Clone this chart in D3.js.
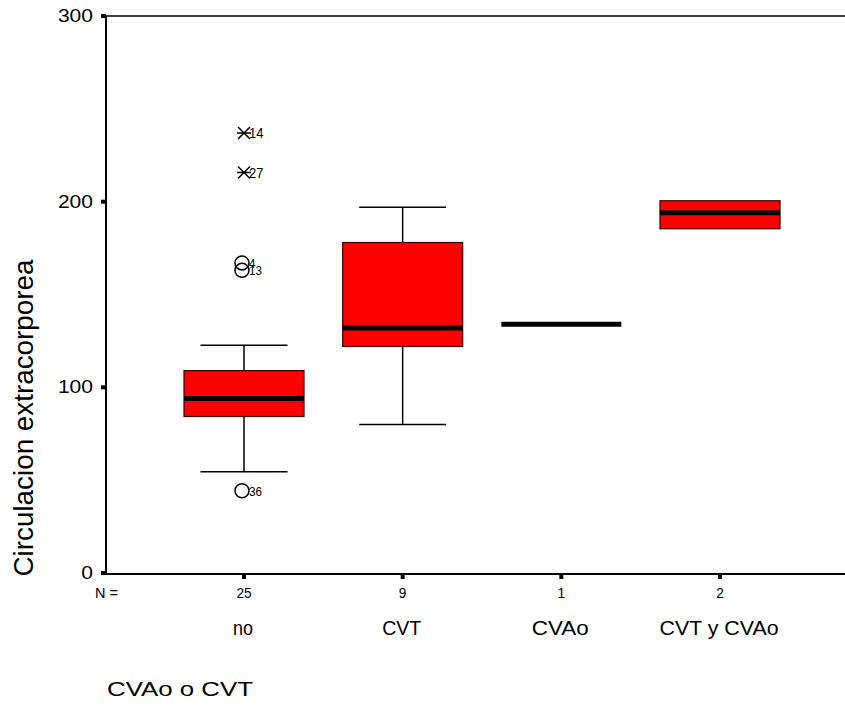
<!DOCTYPE html>
<html><head><meta charset="utf-8">
<script src="https://cdn.jsdelivr.net/npm/d3@7"></script>
<style>body{margin:0;background:#fff}svg{display:block}text{font-family:"Liberation Sans",Arial,sans-serif;fill:#000}</style>
</head><body><svg id="c" width="845" height="706"></svg>
<script>
const categories = ["no","CVT","CVAo","CVT y CVAo"];
const counts = [25, 9, 1, 2];
const q1 = [84.3, 122, 134, 185.4];
const median = [94, 132, 134, 194];
const q3 = [109, 178, 134, 200.5];
const whiskerLow = [54.6, 80, 134, 185.4];
const whiskerHigh = [122.7, 197, 134, 200.5];
// outliers: category index, value, label, type
const outlierCat = [0,0,0,0,0];
const outlierVal = [237, 215.7, 167, 163, 44.3];
const outlierLabel = ["14","27","4","13","36"];
const outlierType = ["extreme","extreme","circle","circle","circle"];
const yTicks = [0,100,200,300];

const svg = d3.select("#c");
const pLeft = 106, pTop = 16, pBottom = 573;
const y = d3.scaleLinear().domain([0,300]).range([pBottom, pTop]);
const x = d3.scalePoint().domain(categories).range([244, 720]);
const cx = c => x(c);
const bw = 120, capW = 87;
const catLabelW = [20, 39, 57, 119];

// frame
svg.append("line").attr("x1",pLeft).attr("x2",845).attr("y1",pTop).attr("y2",pTop).attr("stroke","#000").attr("stroke-width",1.5);
svg.append("line").attr("x1",pLeft).attr("x2",pLeft).attr("y1",pTop).attr("y2",pBottom+1).attr("stroke","#000").attr("stroke-width",2);
svg.append("line").attr("x1",pLeft).attr("x2",845).attr("y1",pBottom+1).attr("y2",pBottom+1).attr("stroke","#000").attr("stroke-width",2);

// y ticks
yTicks.forEach(t=>{
  svg.append("rect").attr("x",pLeft-5).attr("y",y(t)-2).attr("width",5).attr("height",4).attr("fill","#000");
  svg.append("text").attr("x",93).attr("y",y(t)+6).attr("text-anchor","end").attr("font-size",18)
    .attr("textLength", String(t).length*11.7).attr("lengthAdjust","spacingAndGlyphs").text(t);
});
// x ticks
categories.forEach((c,i)=>{
  svg.append("rect").attr("x",cx(c)-2).attr("y",pBottom+1).attr("width",4).attr("height",5).attr("fill","#000");
  svg.append("text").attr("x",cx(c)).attr("y",598).attr("text-anchor","middle").attr("font-size",14)
    .attr("textLength", String(counts[i]).length*7.6).attr("lengthAdjust","spacingAndGlyphs").text(counts[i]);
  svg.append("text").attr("x",cx(c)-1).attr("y",635).attr("text-anchor","middle").attr("font-size",20)
    .attr("textLength",catLabelW[i]).attr("lengthAdjust","spacingAndGlyphs").text(c);
});
svg.append("text").attr("x",95).attr("y",598).attr("font-size",14).attr("textLength",23).attr("lengthAdjust","spacingAndGlyphs").text("N =");

// titles
svg.append("text").attr("transform",`translate(33,418) rotate(-90)`).attr("text-anchor","middle").attr("font-size",27)
  .attr("textLength",317).attr("lengthAdjust","spacingAndGlyphs").text("Circulacion extracorporea");
svg.append("text").attr("x",107).attr("y",696).attr("font-size",21).attr("textLength",146).attr("lengthAdjust","spacingAndGlyphs").text("CVAo o CVT");

// boxes
categories.forEach((c,i)=>{
  const m = cx(c);
  const g = svg.append("g");
  if (whiskerHigh[i] > q3[i]) {
    g.append("line").attr("x1",m).attr("x2",m).attr("y1",y(q3[i])).attr("y2",y(whiskerHigh[i])).attr("stroke","#000").attr("stroke-width",1.5);
    g.append("line").attr("x1",m-capW/2).attr("x2",m+capW/2).attr("y1",y(whiskerHigh[i])).attr("y2",y(whiskerHigh[i])).attr("stroke","#000").attr("stroke-width",1.5);
  }
  if (whiskerLow[i] < q1[i]) {
    g.append("line").attr("x1",m).attr("x2",m).attr("y1",y(q1[i])).attr("y2",y(whiskerLow[i])).attr("stroke","#000").attr("stroke-width",1.5);
    g.append("line").attr("x1",m-capW/2).attr("x2",m+capW/2).attr("y1",y(whiskerLow[i])).attr("y2",y(whiskerLow[i])).attr("stroke","#000").attr("stroke-width",1.5);
  }
  if (q3[i] > q1[i]) {
    g.append("rect").attr("x",m-bw/2).attr("y",y(q3[i])).attr("width",bw).attr("height",y(q1[i])-y(q3[i])).attr("fill","#ff0000").attr("stroke","#3a0000").attr("stroke-width",1.2);
  }
  g.append("line").attr("x1",m-bw/2).attr("x2",m+bw/2).attr("y1",y(median[i])).attr("y2",y(median[i])).attr("stroke","#000").attr("stroke-width",5);
});

// outliers
outlierVal.forEach((v,k)=>{
  const m = cx(categories[outlierCat[k]]);
  const yy = y(v);
  if (outlierType[k]==="circle") {
    svg.append("circle").attr("cx",m-2).attr("cy",yy).attr("r",7).attr("fill","none").attr("stroke","#000").attr("stroke-width",1.5);
    svg.append("text").attr("x",m+5).attr("y",yy).attr("dy","0.38em").attr("font-size",13)
      .attr("textLength",outlierLabel[k].length*6.5).attr("lengthAdjust","spacingAndGlyphs").text(outlierLabel[k]);
  } else {
    const s = 6;
    svg.append("path").attr("d",`M${m-s},${yy-s}L${m+s},${yy+s}M${m-s},${yy+s}L${m+s},${yy-s}M${m-s-1},${yy}L${m+s+1},${yy}`).attr("stroke","#000").attr("stroke-width",1.5).attr("fill","none");
    svg.append("text").attr("x",m+5).attr("y",yy).attr("dy","0.38em").attr("font-size",14)
      .attr("textLength",outlierLabel[k].length*7.2).attr("lengthAdjust","spacingAndGlyphs").text(outlierLabel[k]);
  }
});
</script></body></html>
